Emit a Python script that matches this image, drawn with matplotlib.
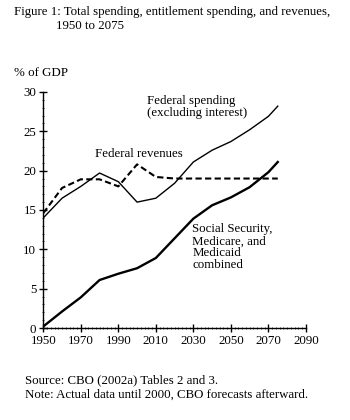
import matplotlib
matplotlib.use("Agg")
import matplotlib.pyplot as plt
from matplotlib.ticker import MultipleLocator

years_spend = [1950, 1960, 1970, 1980, 1990, 2000, 2010, 2020, 2030, 2040, 2050, 2060, 2070, 2075]
total_spending = [14.0, 16.5, 18.0, 19.7, 18.6, 16.0, 16.5, 18.4, 21.1, 22.6, 23.7, 25.2, 26.9, 28.2]

years_rev = [1950, 1960, 1970, 1980, 1990, 2000, 2010, 2020, 2030, 2040, 2050, 2060, 2070, 2075]
revenues = [14.6, 17.8, 18.9, 18.9, 18.0, 20.8, 19.2, 19.0, 19.0, 19.0, 19.0, 19.0, 19.0, 19.0]

years_ent = [1950, 1960, 1970, 1980, 1990, 2000, 2010, 2020, 2030, 2040, 2050, 2060, 2070, 2075]
entitlements = [0.2, 2.1, 3.9, 6.1, 6.9, 7.6, 8.9, 11.4, 13.9, 15.6, 16.6, 17.9, 19.8, 21.1]

x_ticks = [1950, 1970, 1990, 2010, 2030, 2050, 2070, 2090]
y_ticks = [0, 5, 10, 15, 20, 25, 30]

plt.rcParams['font.family'] = ['Liberation Serif', 'DejaVu Serif']
fs = 9.3

fig = plt.figure(figsize=(3.5, 4.2), dpi=100)
ax = fig.add_axes([0.1237, 0.219, 0.7503, 0.562])

ax.plot(years_spend, total_spending, color='black', lw=1.0)
ax.plot(years_rev, revenues, color='black', lw=1.5, dashes=(3, 1.6))
ax.plot(years_ent, entitlements, color='black', lw=1.7)

ax.set_xlim(1950, 2090)
ax.set_ylim(0, 30)
ax.set_xticks(x_ticks)
ax.set_yticks(y_ticks)
ax.xaxis.set_minor_locator(MultipleLocator(2))
ax.yaxis.set_minor_locator(MultipleLocator(1))
ax.tick_params(which='major', direction='inout', length=6, width=1.0, labelsize=fs, pad=2)
ax.tick_params(which='minor', direction='inout', length=2, width=0.5)
for s in ['top', 'right']:
    ax.spines[s].set_visible(False)
for s in ['left', 'bottom']:
    ax.spines[s].set_linewidth(1.0)

ax.text(2005.5, 29.6, "Federal spending\n(excluding interest)", fontsize=fs, va='top', ha='left', linespacing=1.0)
ax.text(1977.5, 22.1, "Federal revenues", fontsize=fs, va='center', ha='left')
ax.text(2029.5, 13.3, "Social Security,\nMedicare, and\nMedicaid\ncombined", fontsize=fs, va='top', ha='left', linespacing=1.0)

fig.text(14/350, 1 - 6/420, "Figure 1: Total spending, entitlement spending, and revenues,", fontsize=fs, va='top', ha='left')
fig.text(56/350, 1 - 20/420, "1950 to 2075", fontsize=fs, va='top', ha='left')
fig.text(14/350, 1 - 73/420, "% of GDP", fontsize=fs, va='center', ha='left')
fig.text(25/350, 1 - 380/420, "Source: CBO (2002a) Tables 2 and 3.", fontsize=fs, va='center', ha='left')
fig.text(25/350, 1 - 395/420, "Note: Actual data until 2000, CBO forecasts afterward.", fontsize=fs, va='center', ha='left')

fig.savefig("out.png", dpi=100)
